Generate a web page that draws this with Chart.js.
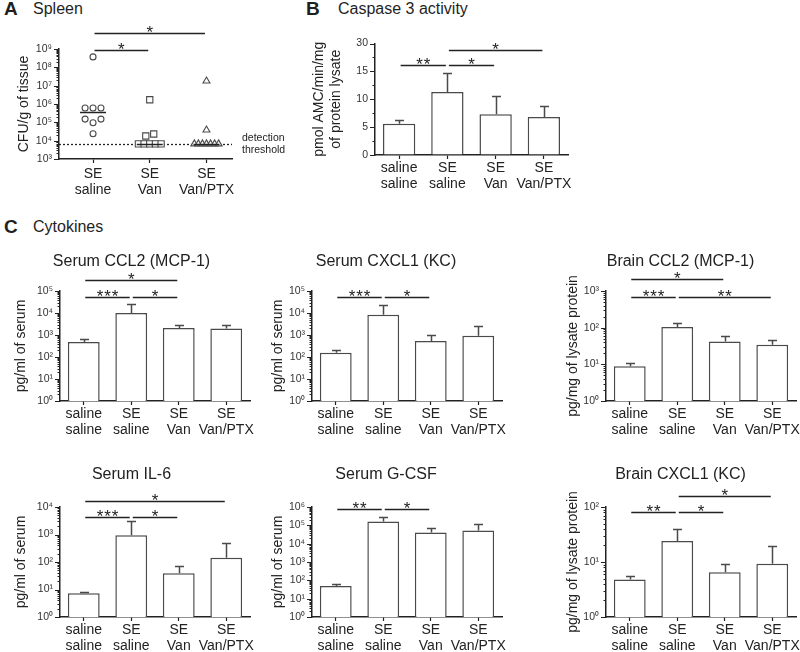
<!DOCTYPE html>
<html><head><meta charset="utf-8">
<script src="https://cdn.jsdelivr.net/npm/chart.js@4/dist/chart.umd.min.js"></script>
<style>
html,body{margin:0;padding:0;background:#fff;overflow:hidden;}
#fig{position:relative;width:800px;height:652px;font-family:'Liberation Sans',Arial,Helvetica,sans-serif;color:#1f1f1f;}
canvas{position:absolute;}
.h{position:absolute;font-size:16px;line-height:20px;white-space:nowrap;}
.L{position:absolute;font-size:19px;line-height:20px;font-weight:bold;}
</style></head><body>
<div id="fig">
  <div class="L" style="left:4px;top:-1px">A</div>
  <div class="h" style="left:33px;top:-1px">Spleen</div>
  <div class="L" style="left:306px;top:-1px">B</div>
  <div class="h" style="left:338px;top:-1px">Caspase 3 activity</div>
  <div class="L" style="left:4px;top:217px">C</div>
  <div class="h" style="left:33px;top:217px">Cytokines</div>
  <canvas id="cA" width="290" height="180" style="left:16px;top:20px"></canvas>
  <canvas id="cB" width="265" height="180" style="left:311px;top:20px"></canvas>
  <canvas id="c1" width="291" height="200" style="left:13px;top:240px"></canvas>
  <canvas id="c2" width="275" height="200" style="left:270px;top:240px"></canvas>
  <canvas id="c3" width="256" height="200" style="left:565px;top:240px"></canvas>
  <canvas id="c4" width="284" height="200" style="left:13px;top:453px"></canvas>
  <canvas id="c5" width="275" height="200" style="left:270px;top:453px"></canvas>
  <canvas id="c6" width="245" height="200" style="left:565px;top:453px"></canvas>
</div>
<script>
// ---------------- data ----------------
const groupLabels = [['saline','saline'],['SE','saline'],['SE','Van'],['SE','Van/PTX']];
const spleenGroupLabels = [['SE','saline'],['SE','Van'],['SE','Van/PTX']];

const spleenSEsaline  = [3.7e8, 6.0e5, 6.0e5, 6.0e5, 1.5e5, 9.5e4, 1.5e5, 2.4e4];
const spleenSEvan     = [1.7e6, 1.8e4, 2.3e4, 6.7e3, 6.7e3, 6.7e3, 6.7e3, 6.7e3];
const spleenSEvanPTX  = [1.8e7, 3.8e4, 6.7e3, 6.7e3, 6.7e3, 6.7e3, 6.7e3, 6.7e3, 6.7e3];
const spleenThreshold = 6.7e3;
const spleenSig = [[0,2,'*',7.8e9],[0,1,'*',9.0e8]];

const caspaseMean = [5.6, 11.3, 7.3, 6.8];
const caspaseErr  = [6.3, 14.7, 10.5, 8.8];
const caspaseTickValues = [0, 5, 10, 15, 20];
const caspaseTickText   = ['0', '5', '10', '15', '30'];   // broken axis: top tick reads 30
const caspaseSig = [[0,1,'**',16.1],[1,2,'*',16.1],[1,3,'*',18.9]];

const serumCCL2Mean = [480, 1.0e4, 2.1e3, 1.95e3];
const serumCCL2Err  = [630, 2.6e4, 2.8e3, 2.8e3];
const serumCCL2Sig  = [[0,2,'*',3.16e5],[0,1,'***',5.4e4],[1,2,'*',5.4e4]];

const serumCXCL1Mean = [158, 8.3e3, 540, 930];
const serumCXCL1Err  = [200, 2.4e4, 1.0e3, 2.5e3];
const serumCXCL1Sig  = [[0,1,'***',5.5e4],[1,2,'*',5.5e4]];

const brainCCL2Mean = [8.8, 105, 42, 34];
const brainCCL2Err  = [10.6, 135, 59, 45];
const brainCCL2Sig  = [[0,2,'*',2.1e3],[0,1,'***',670],[1,3,'**',670]];

const serumIL6Mean = [7.3, 940, 39, 143];
const serumIL6Err  = [8.3, 3.0e3, 73, 480];
const serumIL6Sig  = [[0,3,'*',1.65e4],[0,1,'***',4.4e3],[1,2,'*',4.4e3]];

const serumGCSFMean = [49, 1.6e5, 4.1e4, 5.2e4];
const serumGCSFErr  = [61, 2.8e5, 7.0e4, 1.2e5];
const serumGCSFSig  = [[0,1,'**',7.6e5],[1,2,'*',7.6e5]];

const brainCXCL1Mean = [4.8, 24, 6.5, 9.3];
const brainCXCL1Err  = [5.5, 39, 9.2, 19.6];
const brainCXCL1Sig  = [[1,3,'*',160],[0,1,'**',81],[1,2,'*',81]];

// ---------------- helpers ----------------
const FONT = "'Liberation Sans', Arial, Helvetica, sans-serif";
const INK = '#222';
const EDGE = '#4a4a4a';
Chart.defaults.font.family = FONT;
Chart.defaults.color = INK;
Chart.defaults.animation = false;

const SUP = {'0':'\u2070','1':'\u00b9','2':'\u00b2','3':'\u00b3','4':'\u2074','5':'\u2075','6':'\u2076','7':'\u2077','8':'\u2078','9':'\u2079','-':'\u207b'};
function isPow10(v){ if(v<=0) return false; const l=Math.log10(v); return Math.abs(l-Math.round(l))<1e-9; }
function powLabel(v){ const e=Math.round(Math.log10(v)); return '10'+String(e).split('').map(c=>SUP[c]).join(''); }
function logTicks(min,max){
  const t=[]; const e0=Math.round(Math.log10(min)), e1=Math.round(Math.log10(max));
  for(let e=e0;e<=e1;e++){ for(let m=1;m<=9;m++){ const v=m*Math.pow(10,e); if(v>max*1.0001) break; t.push({value:v}); } }
  return t;
}
function median(a){ const s=[...a].sort((p,q)=>p-q); const n=s.length; return n%2? s[(n-1)/2] : (s[n/2-1]+s[n/2])/2; }
function spread(vals,g){
  const clusters=[];
  vals.forEach(v=>{ const lv=Math.log10(v); let c=clusters.find(c=>Math.abs(c.lv-lv)<0.25); if(!c){c={lv,items:[]};clusters.push(c);} c.items.push(v); });
  const pts=[];
  clusters.forEach(c=>{ const n=c.items.length, step=Math.min(0.14,0.5/n); c.items.forEach((v,k)=>pts.push({x:g+(k-(n-1)/2)*step,y:v})); });
  return pts;
}

function drawYTicks(chart){
  const y=chart.scales.y, ctx=chart.ctx;
  ctx.save(); ctx.strokeStyle=INK; ctx.lineWidth=1;
  y.ticks.forEach(t=>{
    const p=Math.round(y.getPixelForValue(t.value))+0.5;
    const len=t.label?5:2.5;
    ctx.beginPath(); ctx.moveTo(y.right,p); ctx.lineTo(y.right-len,p); ctx.stroke();
  });
  ctx.restore();
}
function drawErr(chart,err){
  const y=chart.scales.y, ctx=chart.ctx, meta=chart.getDatasetMeta(0);
  ctx.save(); ctx.strokeStyle=EDGE; ctx.lineWidth=1.5;
  meta.data.forEach((bar,i)=>{
    const top=Math.round(y.getPixelForValue(err[i]))+0.5, bx=Math.round(bar.x)+0.5;
    ctx.beginPath(); ctx.moveTo(bx,bar.y); ctx.lineTo(bx,top); ctx.moveTo(bx-4.5,top); ctx.lineTo(bx+4.5,top); ctx.stroke();
  });
  ctx.restore();
}
function drawSig(chart,sig){
  const x=chart.scales.x, y=chart.scales.y, ctx=chart.ctx;
  ctx.save();
  sig.forEach(([i,j,stars,level])=>{
    const x1=x.getPixelForValue(i)+1.5, x2=x.getPixelForValue(j)-1.5;
    const py=Math.round(y.getPixelForValue(level))+0.5;
    ctx.strokeStyle=INK; ctx.lineWidth=1.5;
    ctx.beginPath(); ctx.moveTo(x1,py); ctx.lineTo(x2,py); ctx.stroke();
    ctx.fillStyle=INK; ctx.font='17px '+FONT; ctx.textAlign='center'; ctx.textBaseline='alphabetic';
    const n=stars.length, sp=7.5, cx=(x1+x2)/2;
    for(let k=0;k<n;k++) ctx.fillText('*', cx+(k-(n-1)/2)*sp, py+4.5);
  });
  ctx.restore();
}
function marks(cfg){
  return {
    id:'marks',
    beforeDatasetsDraw(chart){
      if(cfg.threshold){
        const y=chart.scales.y, a=chart.chartArea, ctx=chart.ctx;
        const p=Math.round(y.getPixelForValue(cfg.threshold))+0.5;
        ctx.save(); ctx.strokeStyle=INK; ctx.lineWidth=1.3; ctx.setLineDash([2,2]);
        ctx.beginPath(); ctx.moveTo(a.left,p); ctx.lineTo(a.right,p); ctx.stroke();
        ctx.setLineDash([]); ctx.fillStyle=INK; ctx.font='10.5px '+FONT; ctx.textAlign='left'; ctx.textBaseline='middle';
        ctx.fillText('detection', a.right+10, p-6); ctx.fillText('threshold', a.right+10, p+6);
        ctx.restore();
      }
    },
    afterDatasetsDraw(chart){
      drawYTicks(chart);
      if(cfg.err) drawErr(chart,cfg.err);
      if(cfg.medians){
        const x=chart.scales.x, y=chart.scales.y, ctx=chart.ctx;
        ctx.save(); ctx.strokeStyle=INK; ctx.lineWidth=1.5;
        cfg.medians.forEach((m,g)=>{ const px=x.getPixelForValue(g), py=Math.round(y.getPixelForValue(m))+0.5;
          ctx.beginPath(); ctx.moveTo(px-13,py); ctx.lineTo(px+13,py); ctx.stroke(); });
        ctx.restore();
      }
      if(cfg.sig) drawSig(chart,cfg.sig);
    }
  };
}

function logY(min,max,title,yW){
  return {
    type:'logarithmic', min, max, position:'left',
    afterBuildTicks: s=>{ s.ticks=logTicks(min,max); },
    ticks:{autoSkip:false, padding:3, font:{size:10.5}, color:'#333', callback:v=>isPow10(v)?powLabel(v):''},
    grid:{drawOnChartArea:false, drawTicks:true, tickLength:4, tickColor:'rgba(0,0,0,0)'},
    border:{color:INK, width:1.5},
    title:{display:true, text:title, font:{size:14}, padding:0, color:INK},
    afterFit: s=>{ s.width=yW; }
  };
}
function catX(xH,pad){
  return {
    type:'category', offset:true,
    grid:{offset:false, drawOnChartArea:false, drawTicks:true, tickLength:4, tickColor:INK, tickWidth:1.2},
    border:{color:INK, width:1.5},
    ticks:{autoSkip:false, maxRotation:0, minRotation:0, padding:pad, font:{size:14, lineHeight:1.15}, color:INK},
    afterFit: s=>{ s.height=xH; }
  };
}
function barDataset(mean){
  return {data:mean, backgroundColor:'#ffffff', borderColor:EDGE, borderWidth:1.5, barPercentage:0.67, categoryPercentage:1};
}

function cytokine(id, title, mean, err, sig, yMin, yMax, yTitle, yW, padR, xH, titlePad){
  new Chart(document.getElementById(id), {
    type:'bar',
    data:{labels:groupLabels, datasets:[barDataset(mean)]},
    options:{
      responsive:false, animation:false,
      layout:{padding:{left:0,right:padR,top:0,bottom:0}},
      plugins:{legend:{display:false}, tooltip:{enabled:false},
        title:{display:true, text:title, color:INK, font:{size:16, weight:'normal', lineHeight:1.2}, padding:titlePad}},
      scales:{ x:catX(xH,1), y:logY(yMin,yMax,yTitle,yW) }
    },
    plugins:[marks({err, sig})]
  });
}

// ---------------- panel A ----------------
new Chart(document.getElementById('cA'), {
  type:'scatter',
  data:{datasets:[
    {data:spread(spleenSEsaline,0), pointStyle:'circle', pointRadius:3, pointBackgroundColor:'#fff', pointBorderColor:EDGE, pointBorderWidth:1.1},
    {data:spread(spleenSEvan,1), pointStyle:'rect', pointRadius:4.4, pointBackgroundColor:'#fff', pointBorderColor:EDGE, pointBorderWidth:1.1},
    {data:spread(spleenSEvanPTX,2), pointStyle:'triangle', pointRadius:4, pointBackgroundColor:'#fff', pointBorderColor:EDGE, pointBorderWidth:1.1}
  ]},
  options:{
    responsive:false, animation:false,
    layout:{padding:{left:0,right:74,top:29,bottom:0}},
    plugins:{legend:{display:false}, tooltip:{enabled:false}},
    scales:{
      x:{type:'linear', min:-0.6, max:2.45,
        afterBuildTicks: s=>{ s.ticks=spleenGroupLabels.map((_,i)=>({value:i})); },
        grid:{drawOnChartArea:false, drawTicks:true, tickLength:4, tickColor:INK, tickWidth:1.2},
        border:{color:INK, width:1.5},
        ticks:{autoSkip:false, maxRotation:0, padding:3, font:{size:14, lineHeight:1.15}, color:INK, callback:v=>spleenGroupLabels[v]},
        afterFit: s=>{ s.height=41; }},
      y:logY(1e3,1e9,'CFU/g of tissue',43)
    }
  },
  plugins:[marks({threshold:spleenThreshold, medians:[median(spleenSEsaline),median(spleenSEvan),median(spleenSEvanPTX)], sig:spleenSig})]
});

// ---------------- panel B ----------------
new Chart(document.getElementById('cB'), {
  type:'bar',
  data:{labels:groupLabels, datasets:[barDataset(caspaseMean)]},
  options:{
    responsive:false, animation:false,
    layout:{padding:{left:0,right:8,top:23.5,bottom:0}},
    plugins:{legend:{display:false}, tooltip:{enabled:false}},
    scales:{
      x:catX(45,1),
      y:{type:'linear', min:0, max:20,
        afterBuildTicks: s=>{ const t=[]; for(let v=0; v<=20; v+=2.5) t.push({value:v}); s.ticks=t; },
        ticks:{autoSkip:false, padding:3, font:{size:10.5}, color:'#333',
          callback:v=>{ const k=caspaseTickValues.indexOf(v); return k>=0?caspaseTickText[k]:''; }},
        grid:{drawOnChartArea:false, drawTicks:true, tickLength:4, tickColor:'rgba(0,0,0,0)'},
        border:{color:INK, width:1.5},
        title:{display:true, text:['pmol AMC/min/mg','of protein lysate'], font:{size:14}, padding:0, color:INK},
        afterFit: s=>{ s.width=64; }}
    }
  },
  plugins:[marks({err:caspaseErr, sig:caspaseSig})]
});

// ---------------- panel C ----------------
const padRow1 = {top:12.4, bottom:19.4};
const padRow2 = {top:12.4, bottom:22.4};
cytokine('c1','Serum CCL2 (MCP-1)', serumCCL2Mean, serumCCL2Err, serumCCL2Sig, 1, 1e5, 'pg/ml of serum', 47, 54, 39, padRow1);
cytokine('c2','Serum CXCL1 (KC)', serumCXCL1Mean, serumCXCL1Err, serumCXCL1Sig, 1, 1e5, 'pg/ml of serum', 42, 43, 39, padRow1);
cytokine('c3','Brain CCL2 (MCP-1)', brainCCL2Mean, brainCCL2Err, brainCCL2Sig, 1, 1e3, 'pg/mg of lysate protein', 41, 25, 39, padRow1);
cytokine('c4','Serum IL-6', serumIL6Mean, serumIL6Err, serumIL6Sig, 1, 1e4, 'pg/ml of serum', 47, 47, 36, padRow2);
cytokine('c5','Serum G-CSF', serumGCSFMean, serumGCSFErr, serumGCSFSig, 1, 1e6, 'pg/ml of serum', 42, 43, 36, padRow2);
cytokine('c6','Brain CXCL1 (KC)', brainCXCL1Mean, brainCXCL1Err, brainCXCL1Sig, 1, 1e2, 'pg/mg of lysate protein', 41, 14, 36, padRow2);
</script>
</body></html>
